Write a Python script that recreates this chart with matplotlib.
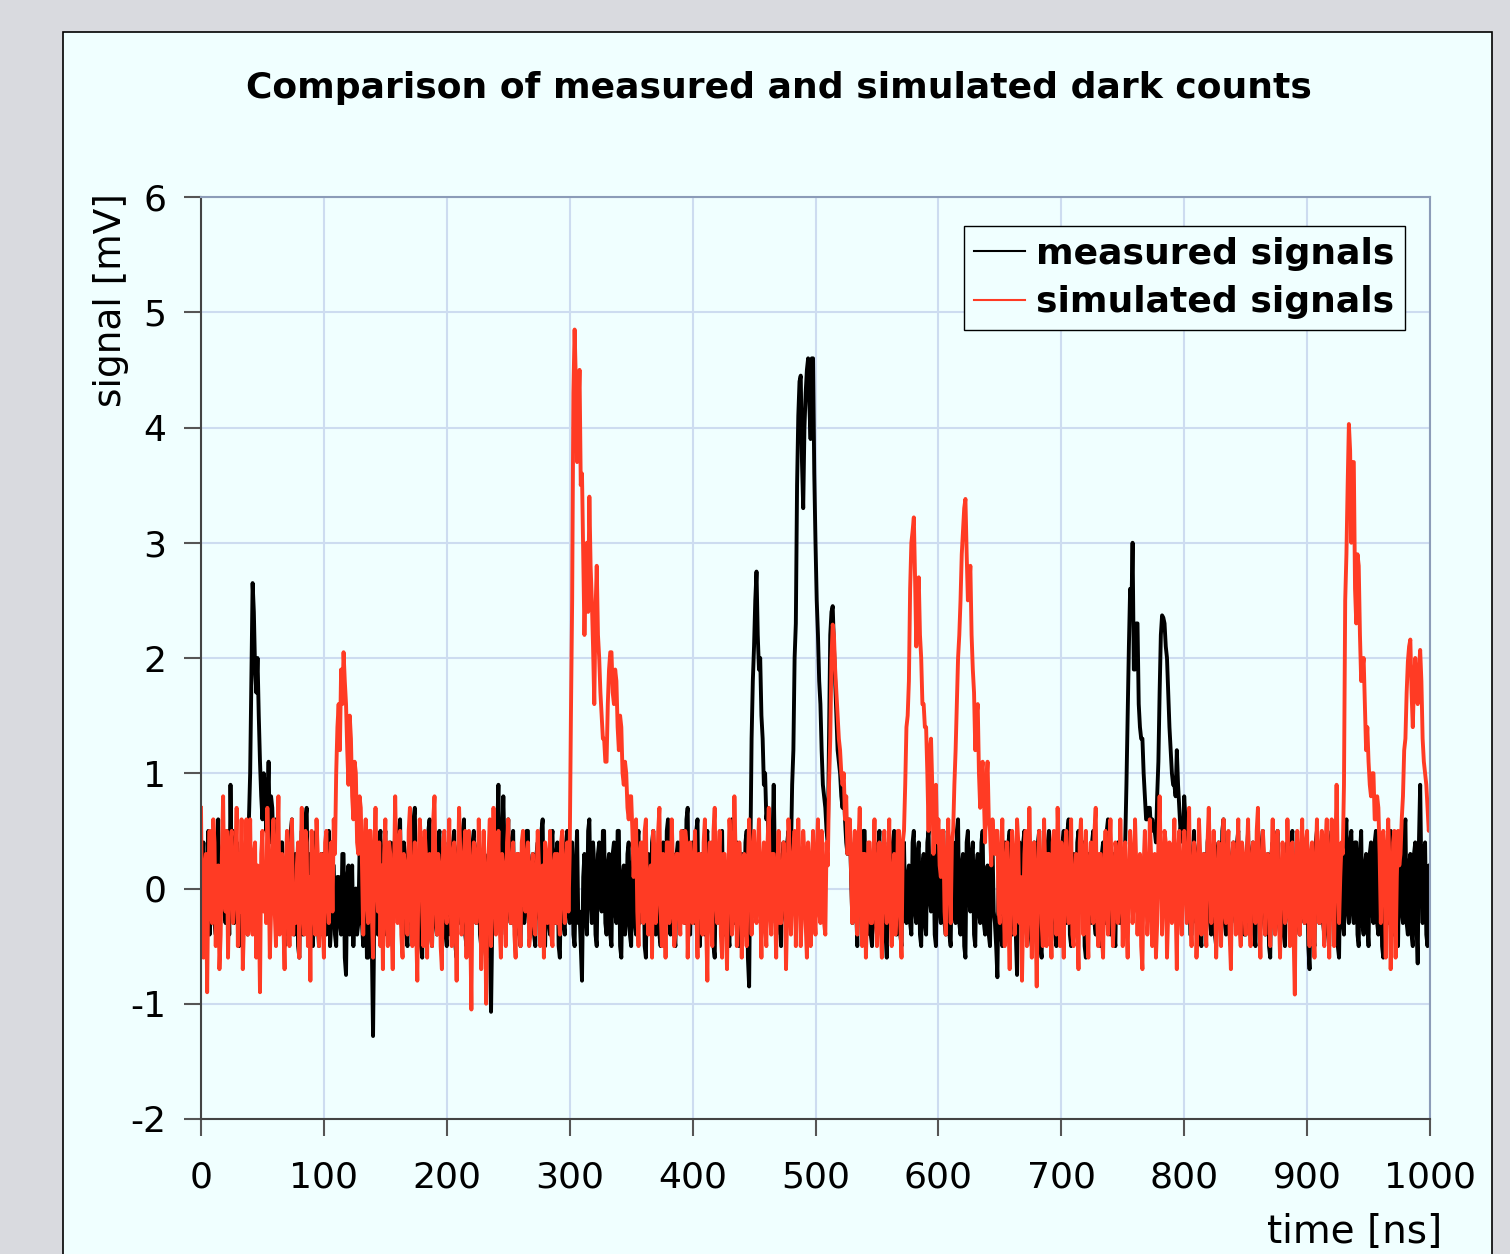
import numpy as np
import matplotlib.pyplot as plt
from matplotlib.patches import Rectangle

# sampling step of the traces [ns]
step_ns = 1

# measured signal [mV], one line = 10 ns
measured = [
    -0.5, 0.2, 0.4, -0.3, -0.3, 0.1, 0.5, -0.4, -0.2, 0.5,
    0.3, -0.3, -0.4, 0.2, 0.6, -0.3, -0.1, 0.3, 0.4, -0.2,
    -0.3, 0.5, 0.2, -0.4, 0.9, 0.1, 0.5, -0.3, -0.2, 0.4,
    0.3, -0.5, -0.4, 0.3, 0.1, -0.2, 0.3, 0.5, -0.4, 0.6,
    1.0, 1.8, 2.65, 2.4, 1.9, 1.7, 2.0, 1.5, 1.1, 0.8,
    0.6, 1.0, 0.9, 0.5, 0.7, 1.1, 0.4, 0.8, 0.7, 0.3,
    0.2, 0.6, 0.5, -0.2, -0.3, 0.4, 0.4, -0.3, -0.5, 0.2,
    0.3, -0.4, -0.2, 0.5, 0.6, -0.3, -0.4, 0.3, 0.2, -0.5,
    -0.6, 0.2, 0.5, -0.4, -0.3, 0.6, 0.7, -0.2, -0.4, 0.3,
    0.3, -0.5, -0.2, 0.4, 0.5, -0.3, -0.5, 0.2, 0.3, -0.4,
    0.3, -0.2, -0.4, 0.3, 0.5, -0.5, -0.3, 0.2, 0.2, -0.4,
    -0.5, 0.1, 0.1, -0.3, -0.4, 0.3, 0.3, -0.6, -0.75, 0.1,
    0.2, -0.4, -0.3, 0.2, -0.5, -0.1, 0.0, -0.4, -0.3, 0.3,
    0.4, -0.3, -0.5, 0.1, 0.2, -0.6, -0.6, 0.2, 0.3, -0.5,
    -1.28, -0.2, 0.2, -0.3, -0.4, 0.4, 0.5, -0.2, -0.3, 0.3,
    0.5, -0.4, -0.3, 0.3, 0.4, -0.3, -0.5, 0.4, 0.2, -0.1,
    -0.2, 0.5, 0.6, -0.3, -0.4, 0.4, 0.3, -0.4, -0.5, 0.2,
    0.5, -0.3, -0.3, 0.6, 0.7, -0.2, -0.4, 0.3, 0.2, -0.5,
    -0.6, 0.3, 0.4, -0.2, -0.3, 0.5, 0.6, -0.4, -0.5, 0.2,
    0.3, -0.3, -0.4, 0.4, 0.5, -0.1, -0.2, 0.3, 0.4, -0.4,
    -0.5, 0.2, 0.3, -0.4, -0.3, 0.4, 0.5, -0.5, -0.6, 0.3,
    0.4, -0.3, -0.2, 0.5, 0.6, -0.4, -0.5, 0.2, 0.3, -0.3,
    -0.4, 0.4, 0.5, -0.2, -0.3, 0.3, 0.4, -0.4, -0.5, 0.1,
    0.2, -0.5, -0.6, 0.2, 0.3, -0.4, -1.07, -0.3, 0.4, 0.2,
    -0.3, 0.5, 0.9, 0.1, -0.2, 0.4, 0.8, 0.3, -0.4, 0.2,
    0.6, -0.2, -0.3, 0.4, 0.5, -0.3, -0.4, 0.2, 0.3, -0.4,
    -0.5, 0.3, 0.4, -0.3, -0.2, 0.5, 0.5, -0.3, -0.4, 0.2,
    0.3, -0.4, -0.5, 0.3, 0.4, -0.2, -0.3, 0.5, 0.6, -0.4,
    -0.5, 0.1, 0.2, -0.3, -0.4, 0.4, 0.5, -0.2, -0.3, 0.3,
    0.4, -0.5, -0.6, 0.2, 0.3, -0.3, -0.4, 0.4, 0.5, -0.2,
    -0.3, 0.3, 0.4, -0.4, -0.5, 0.2, 0.5, -0.3, -0.2, -0.5,
    -0.8, 0.1, 0.3, -0.2, -0.4, 0.5, 0.6, -0.1, -0.3, 0.4,
    0.2, -0.4, -0.5, 0.3, 0.4, -0.1, -0.2, 0.5, 0.5, -0.3,
    -0.4, 0.2, 0.3, -0.4, -0.5, 0.3, 0.4, -0.2, -0.3, 0.5,
    0.5, -0.5, -0.6, 0.1, 0.2, -0.4, -0.3, 0.3, 0.4, -0.4,
    -0.5, 0.2, 0.3, -0.3, -0.4, 0.4, 0.5, -0.3, -0.2, 0.3,
    0.4, -0.5, -0.6, 0.2, 0.3, -0.2, -0.3, 0.4, 0.5, -0.3,
    -0.4, 0.1, 0.2, -0.4, -0.5, 0.3, 0.4, -0.2, -0.3, 0.5,
    0.6, -0.3, -0.4, 0.2, 0.3, -0.4, -0.5, 0.3, 0.4, -0.1,
    -0.2, 0.4, 0.5, -0.2, -0.3, 0.6, 0.7, -0.3, -0.4, 0.3,
    0.4, -0.2, -0.3, 0.5, 0.6, -0.4, -0.5, 0.2, 0.3, -0.3,
    -0.4, 0.4, 0.5, -0.1, -0.2, 0.3, 0.4, -0.5, -0.6, 0.2,
    0.3, -0.2, -0.3, 0.4, 0.5, -0.3, -0.4, 0.1, 0.2, -0.4,
    -0.5, 0.5, 0.6, -0.2, -0.3, 0.3, 0.4, -0.4, -0.5, 0.2,
    0.3, -0.3, -0.4, 0.4, 0.5, -0.6, -0.85, 0.3, 1.3, 1.8,
    2.1, 2.5, 2.75, 2.2, 1.9, 2.0, 1.5, 1.3, 0.9, 1.0,
    0.6, 0.7, 0.3, 0.1, -0.3, 0.4, 0.9, 0.2, -0.4, 0.3,
    0.3, -0.3, -0.5, 0.2, 0.4, -0.2, -0.3, 0.4, 0.5, -0.1,
    0.3, 0.9, 1.2, 2.0, 2.3, 3.5, 4.1, 4.4, 4.45, 3.7,
    3.3, 4.0, 4.3, 4.5, 4.6, 4.2, 3.9, 4.6, 4.6, 3.6,
    3.0, 2.5, 2.2, 1.8, 1.6, 1.2, 0.9, 0.8, 0.7, 0.5,
    0.4, 1.3, 2.2, 2.4, 2.45, 2.1, 1.8, 1.5, 1.2, 1.1,
    1.0, 0.8, 0.7, 0.9, 0.6, 0.4, 0.3, 0.6, 0.5, 0.1,
    -0.3, 0.2, 0.4, -0.1, -0.5, 0.3, 0.3, -0.2, -0.2, 0.5,
    0.5, -0.3, -0.4, 0.2, 0.3, -0.4, -0.5, 0.3, 0.4, -0.3,
    -0.4, 0.3, 0.5, -0.2, -0.3, 0.3, 0.4, -0.4, -0.6, 0.2,
    0.3, -0.1, -0.2, 0.4, 0.5, -0.3, -0.4, 0.2, 0.3, -0.4,
    -0.5, 0.3, 0.4, -0.2, -0.3, 0.1, 0.2, -0.3, -0.4, 0.4,
    0.5, -0.2, -0.3, 0.3, 0.4, -0.4, -0.5, 0.2, 0.3, -0.3,
    -0.4, 0.4, 0.5, -0.1, -0.2, 0.2, 0.3, -0.4, -0.5, 0.3,
    0.4, -0.2, -0.3, 0.4, 0.5, -0.3, -0.4, 0.1, 0.2, -0.4,
    -0.5, 0.3, 0.4, -0.2, -0.3, 0.5, 0.6, -0.3, -0.4, 0.2,
    0.3, -0.5, -0.6, 0.4, 0.5, -0.1, -0.2, 0.3, 0.4, -0.4,
    -0.5, 0.2, 0.3, -0.2, -0.3, 0.4, 0.5, -0.3, -0.4, 0.1,
    0.2, -0.4, -0.5, 0.3, 0.4, -0.2, -0.3, -0.5, -0.77, 0.1,
    0.3, -0.4, -0.5, 0.3, 0.4, -0.2, -0.3, 0.4, 0.5, -0.3,
    -0.4, 0.1, 0.2, -0.4, -0.75, 0.3, 0.4, -0.2, -0.3, 0.4,
    0.5, -0.3, -0.4, 0.2, 0.3, -0.4, -0.5, 0.3, 0.4, -0.1,
    -0.2, 0.4, 0.5, -0.5, -0.6, 0.2, 0.3, -0.3, -0.4, 0.4,
    0.5, -0.2, -0.3, 0.3, 0.4, -0.4, -0.5, 0.2, 0.3, -0.3,
    -0.4, 0.4, 0.5, -0.2, -0.3, 0.5, 0.6, -0.4, -0.5, 0.2,
    0.3, -0.3, -0.4, 0.4, 0.5, -0.1, -0.2, 0.3, 0.4, -0.5,
    -0.6, 0.2, 0.3, -0.2, -0.3, 0.4, 0.5, -0.3, -0.4, 0.1,
    0.2, -0.4, -0.5, 0.3, 0.4, -0.2, -0.3, 0.5, 0.6, -0.3,
    -0.4, 0.2, 0.3, -0.4, -0.5, 0.3, 0.4, -0.2, -0.3, 0.2,
    0.3, 0.2, 0.4, 0.9, 1.5, 2.1, 2.6, 2.4, 3.0, 1.9,
    1.9, 2.3, 2.3, 1.6, 1.4, 1.3, 1.3, 1.0, 0.8, 0.6,
    0.6, 0.7, 0.7, 0.5, 0.6, 0.5, 0.5, 0.4, 0.8, 1.1,
    1.7, 2.2, 2.37, 2.35, 2.3, 2.1, 2.0, 1.7, 1.4, 1.2,
    1.0, 0.9, 0.9, 0.8, 1.2, 0.9, 0.7, 0.5, 0.6, 0.4,
    0.8, 0.6, 0.5, 0.2, 0.3, -0.4, -0.4, 0.3, 0.5, -0.2,
    -0.3, 0.3, 0.4, -0.4, -0.5, 0.2, 0.3, -0.3, -0.2, 0.4,
    0.5, -0.3, -0.4, 0.2, 0.3, -0.4, -0.5, 0.3, 0.4, -0.2,
    -0.3, 0.5, 0.6, -0.3, -0.4, 0.1, 0.2, -0.4, -0.5, 0.3,
    0.4, -0.2, -0.3, 0.4, 0.5, -0.3, -0.4, 0.2, 0.3, -0.4,
    -0.4, 0.3, 0.5, -0.2, -0.3, 0.3, 0.4, -0.4, -0.5, 0.2,
    0.3, -0.1, -0.2, 0.4, 0.5, -0.3, -0.4, 0.2, 0.3, -0.5,
    -0.6, 0.3, 0.4, -0.2, -0.3, 0.4, 0.5, -0.3, -0.4, 0.1,
    0.2, -0.4, -0.5, 0.3, 0.4, -0.2, -0.3, 0.4, 0.5, -0.4,
    -0.5, 0.2, 0.3, -0.3, -0.4, 0.3, 0.4, -0.2, -0.3, 0.3,
    0.4, -0.5, -0.7, 0.2, 0.3, -0.4, -0.5, 0.4, 0.5, -0.2,
    -0.3, 0.3, 0.4, -0.3, -0.4, 0.1, 0.2, -0.4, -0.5, 0.4,
    0.5, -0.2, -0.3, 0.3, 0.4, -0.5, -0.6, 0.2, 0.3, -0.3,
    -0.4, 0.5, 0.6, -0.2, -0.3, 0.4, 0.5, -0.2, -0.3, 0.4,
    0.4, -0.4, -0.5, 0.3, 0.5, -0.3, -0.4, 0.2, 0.3, -0.3,
    -0.5, 0.3, 0.4, -0.2, -0.3, 0.4, 0.5, -0.3, -0.4, 0.2,
    0.3, -0.5, -0.6, 0.3, 0.4, -0.2, -0.3, 0.4, 0.5, -0.3,
    -0.4, 0.1, 0.2, -0.4, -0.5, 0.3, 0.4, -0.2, -0.3, 0.5,
    0.6, -0.3, -0.4, 0.2, 0.3, -0.4, -0.5, 0.3, 0.4, -0.3,
    -0.65, 0.4, 0.9, 0.1, -0.3, 0.3, 0.4, -0.4, -0.5, 0.2,
    -0.1,
]

# simulated signal [mV], one line = 10 ns
simulated = [
    0.7, -0.4, -0.6, 0.2, 0.3, -0.9, 0.1, 0.5, -0.2, -0.3,
    0.6, 0.4, -0.5, 0.1, 0.2, -0.7, -0.4, 0.3, 0.8, -0.1,
    -0.2, 0.5, -0.6, 0.0, 0.4, 0.5, -0.3, -0.1, 0.2, 0.7,
    -0.5, 0.3, -0.2, 0.6, -0.7, -0.3, 0.2, 0.6, -0.4, 0.1,
    0.6, -0.3, -0.4, 0.3, 0.4, -0.6, 0.2, -0.1, -0.9, 0.3,
    0.5, -0.2, 0.1, -0.3, 0.7, 0.2, -0.6, -0.2, 0.4, 0.6,
    -0.2, -0.5, 0.3, 0.8, -0.4, 0.1, 0.3, -0.3, -0.7, 0.2,
    0.5, -0.1, -0.5, 0.3, 0.6, -0.4, 0.0, -0.3, 0.2, 0.4,
    -0.6, 0.2, 0.7, -0.2, -0.4, 0.5, 0.4, -0.5, 0.1, -0.8,
    0.5, 0.2, -0.2, -0.4, 0.6, 0.3, -0.5, 0.1, 0.3, -0.3,
    -0.6, 0.4, 0.5, -0.1, -0.3, 0.2, 0.4, -0.2, 0.6, 0.3,
    1.0, 1.4, 1.6, 1.2, 1.9, 1.6, 2.05, 1.8, 1.6, 1.2,
    0.9, 1.5, 1.3, 0.8, 0.6, 1.1, 1.0, 0.4, 0.3, 0.8,
    0.7, 0.2, -0.4, 0.3, 0.6, -0.1, -0.3, 0.5, 0.5, -0.2,
    -0.6, 0.3, 0.7, 0.1, -0.2, 0.4, -0.5, 0.2, -0.7, 0.3,
    0.6, -0.2, -0.5, 0.4, 0.3, -0.3, -0.7, 0.1, 0.8, 0.2,
    -0.3, 0.4, 0.5, -0.4, -0.6, 0.3, 0.2, -0.1, -0.4, 0.5,
    0.7, -0.2, -0.5, 0.1, 0.4, -0.3, -0.8, 0.2, 0.6, 0.4,
    -0.2, -0.5, 0.5, 0.3, -0.6, 0.1, 0.3, -0.4, -0.5, 0.6,
    0.8, -0.1, -0.4, 0.3, 0.2, -0.5, -0.7, 0.4, 0.5, -0.2,
    -0.3, 0.2, 0.6, -0.1, -0.5, 0.3, 0.4, -0.2, -0.8, 0.1,
    0.7, 0.3, -0.4, -0.2, 0.3, 0.5, -0.6, 0.1, 0.5, -0.3,
    -1.05, 0.2, 0.4, 0.3, -0.3, -0.1, 0.6, 0.2, -0.7, -0.3,
    0.5, 0.1, -1.0, -0.2, 0.3, 0.6, -0.5, -0.1, 0.7, 0.2,
    -0.4, 0.1, 0.5, -0.3, -0.6, 0.3, 0.2, -0.2, -0.5, 0.4,
    0.6, -0.1, -0.3, 0.2, 0.4, -0.4, -0.6, 0.3, 0.3, -0.2,
    -0.5, 0.4, 0.5, -0.1, -0.2, 0.3, 0.4, -0.5, -0.4, 0.2,
    0.3, -0.3, -0.4, 0.1, 0.5, 0.2, -0.5, -0.2, 0.2, -0.6,
    0.4, 0.3, -0.3, -0.1, 0.5, -0.4, -0.5, 0.2, 0.3, -0.3,
    0.3, -0.2, -0.4, 0.4, 0.5, -0.1, -0.3, 0.2, 0.4, -0.2,
    0.3, 1.5, 2.5, 4.3, 4.85, 4.4, 3.7, 4.1, 4.5, 3.5,
    3.6, 2.9, 2.2, 2.7, 3.0, 2.4, 3.4, 2.8, 2.5, 2.1,
    1.6, 2.4, 2.8, 2.2, 2.0, 1.7, 1.5, 1.3, 1.3, 1.1,
    1.1, 1.6, 1.9, 2.05, 2.05, 1.7, 1.6, 1.9, 1.8, 1.4,
    1.2, 1.5, 1.4, 1.0, 0.9, 1.1, 1.0, 0.7, 0.6, 0.8,
    0.8, 0.5, 0.1, 0.4, 0.6, -0.2, -0.5, 0.3, 0.4, -0.1,
    -0.3, 0.5, 0.6, -0.2, -0.4, 0.1, 0.2, -0.6, 0.5, 0.3,
    -0.3, -0.1, 0.5, 0.7, -0.2, -0.5, 0.3, 0.1, -0.6, 0.4,
    0.4, -0.3, -0.2, 0.6, 0.2, -0.5, -0.4, 0.3, 0.3, -0.2,
    -0.4, 0.5, 0.1, -0.3, 0.5, 0.4, -0.6, -0.2, 0.4, 0.1,
    -0.3, 0.2, 0.5, -0.2, -0.6, 0.3, 0.3, -0.1, -0.4, 0.4,
    0.6, -0.3, -0.8, 0.2, 0.4, -0.2, -0.5, 0.5, 0.7, -0.1,
    -0.3, 0.2, 0.5, -0.4, -0.6, 0.3, 0.3, -0.2, -0.7, 0.1,
    0.6, 0.4, -0.4, -0.2, 0.8, 0.3, -0.5, -0.1, 0.4, 0.2,
    -0.6, 0.1, 0.3, -0.3, -0.5, 0.2, 0.6, 0.1, -0.4, 0.3,
    0.5, -0.2, -0.3, 0.3, 0.6, -0.1, -0.6, 0.2, 0.4, -0.3,
    -0.5, 0.4, 0.7, -0.2, -0.4, 0.3, 0.3, -0.1, -0.6, 0.2,
    0.5, -0.3, -0.3, 0.1, 0.4, 0.2, -0.7, -0.2, 0.6, 0.3,
    -0.4, -0.1, 0.3, 0.5, -0.5, 0.1, 0.6, 0.2, -0.5, -0.2,
    0.5, 0.3, -0.3, -0.6, 0.4, 0.2, -0.5, 0.1, 0.5, -0.2,
    -0.4, 0.3, 0.6, -0.2, -0.3, 0.5, 0.2, -0.3, -0.4, 0.4,
    0.2, 0.9, 1.3, 2.0, 2.29, 2.2, 1.9, 1.7, 1.5, 1.3,
    1.2, 1.0, 0.9, 1.0, 0.6, 0.8, 0.3, 0.5, 0.6, 0.1,
    -0.3, 0.2, 0.5, -0.2, -0.4, 0.4, 0.7, -0.1, -0.5, 0.3,
    0.3, -0.6, -0.2, 0.4, 0.4, -0.3, -0.3, 0.2, 0.6, -0.2,
    -0.5, 0.2, 0.4, -0.3, -0.6, 0.3, 0.5, -0.1, -0.3, 0.2,
    0.6, -0.2, -0.5, 0.1, 0.3, -0.4, -0.2, 0.5, 0.5, -0.3,
    -0.6, 0.4, 0.5, 0.9, 1.4, 1.5, 1.8, 2.6, 3.0, 3.1,
    3.22, 2.7, 2.1, 2.5, 2.7, 2.2, 2.0, 1.6, 1.6, 1.4,
    1.4, 1.0, 0.5, 1.2, 1.3, 0.9, 0.3, 0.7, 0.9, 0.4,
    0.6, 0.2, 0.1, 0.5, 0.5, -0.2, -0.4, 0.2, 0.6, 0.1,
    -0.3, 0.4, 0.5, 0.9, 1.2, 1.6, 2.0, 2.2, 2.5, 2.9,
    3.1, 3.3, 3.38, 2.9, 2.5, 2.6, 2.8, 2.2, 1.9, 1.7,
    1.2, 1.5, 1.6, 1.0, 0.7, 1.0, 1.1, 0.8, 0.4, 0.9,
    1.1, 0.6, 0.5, 0.2, 0.6, 0.4, 0.3, 0.5, 0.5, -0.2,
    -0.3, 0.3, 0.6, -0.1, -0.5, 0.2, 0.4, -0.3, -0.7, 0.1,
    0.5, 0.3, -0.4, -0.2, 0.6, 0.4, -0.3, 0.1, -0.8, -0.2,
    0.3, 0.5, -0.5, -0.1, 0.7, 0.2, -0.6, 0.3, 0.4, -0.2,
    -0.85, 0.1, 0.5, 0.2, -0.3, -0.5, 0.6, 0.1, -0.5, 0.3,
    0.3, -0.2, -0.6, 0.4, 0.5, -0.1, -0.4, 0.7, 0.3, -0.5,
    0.4, -0.2, -0.6, 0.3, 0.5, -0.1, -0.3, 0.2, 0.6, -0.4,
    -0.5, 0.1, 0.3, -0.3, -0.7, 0.4, 0.6, 0.1, -0.4, 0.2,
    0.5, -0.3, -0.6, 0.2, 0.4, -0.1, -0.3, 0.5, 0.7, -0.2,
    -0.5, 0.3, 0.3, -0.4, -0.6, 0.2, 0.5, -0.1, -0.4, 0.3,
    0.6, 0.1, -0.5, -0.2, 0.4, 0.3, -0.3, -0.1, 0.6, 0.2,
    -0.5, 0.2, 0.4, -0.3, -0.6, 0.1, 0.5, 0.3, -0.3, -0.1,
    0.6, 0.2, -0.4, 0.1, 0.3, -0.5, -0.7, 0.2, 0.5, 0.1,
    -0.4, -0.2, 0.6, 0.3, -0.5, 0.1, 0.3, -0.6, -0.3, 0.4,
    0.8, 0.2, -0.4, -0.1, 0.5, 0.4, -0.6, -0.2, 0.4, 0.1,
    -0.3, 0.2, 0.6, -0.1, -0.7, 0.3, 0.5, -0.2, -0.4, 0.2,
    0.5, 0.1, -0.3, 0.2, 0.7, -0.2, -0.5, 0.1, 0.4, 0.2,
    -0.6, -0.2, 0.6, 0.3, -0.4, 0.1, 0.3, -0.3, -0.5, 0.4,
    0.7, 0.2, -0.3, -0.1, 0.5, 0.1, -0.6, -0.2, 0.4, 0.3,
    -0.5, 0.1, 0.6, -0.2, -0.3, 0.3, 0.5, -0.4, -0.7, 0.2,
    0.4, 0.1, -0.4, 0.2, 0.6, -0.3, -0.5, 0.4, 0.3, -0.2,
    -0.4, 0.3, 0.6, -0.2, -0.5, 0.2, 0.4, -0.1, -0.3, 0.5,
    0.7, -0.2, -0.6, 0.1, 0.5, 0.3, -0.4, -0.1, 0.3, 0.2,
    -0.5, 0.2, 0.6, -0.3, -0.4, 0.4, 0.5, -0.2, -0.6, 0.1,
    0.4, 0.2, -0.3, -0.2, 0.6, 0.1, -0.5, 0.3, 0.4, -0.4,
    -0.92, 0.2, 0.5, -0.1, -0.4, 0.3, 0.6, -0.2, -0.3, 0.4,
    0.5, -0.2, -0.5, 0.3, 0.4, -0.3, -0.6, 0.2, 0.6, 0.1,
    -0.3, 0.3, 0.5, -0.2, -0.5, 0.4, 0.6, -0.1, -0.6, 0.2,
    0.6, 0.1, -0.5, 0.3, 0.9, 0.2, -0.3, 0.1, 0.4, 0.3,
    0.9, 2.5, 2.9, 3.5, 4.03, 3.8, 3.0, 3.7, 3.7, 2.6,
    2.3, 2.9, 2.8, 2.2, 1.8, 1.9, 2.0, 1.6, 1.2, 1.4,
    1.1, 0.9, 0.8, 1.0, 1.0, 0.6, 0.6, 0.8, 0.7, 0.3,
    -0.3, 0.4, 0.5, 0.1, -0.6, 0.3, 0.6, 0.2, -0.7, -0.2,
    0.4, 0.5, -0.6, 0.1, 0.5, 0.2, 0.3, 0.6, 0.8, 1.2,
    1.3, 1.7, 1.97, 2.1, 2.16, 1.7, 1.4, 1.8, 2.0, 1.7,
    1.6, 1.9, 2.07, 1.8, 1.3, 1.1, 1.0, 0.9, 0.7, 0.5,
    0.6,
]

t_meas = np.arange(len(measured)) * step_ns
t_sim = np.arange(len(simulated)) * step_ns

plt.rcParams['font.family'] = ['DejaVu Sans']
plt.rcParams['axes.unicode_minus'] = False

W, H = 1510, 1254
bg = '#f0ffff'
fig = plt.figure(figsize=(W / 100, H / 100), dpi=100, facecolor='#d9dadf')

# light panel with black border behind the chart
panel = Rectangle((63 / W, -0.05), (1492 - 63) / W, 1 - 32 / H + 0.05,
                  transform=fig.transFigure, facecolor=bg, edgecolor='black',
                  linewidth=1.2, zorder=-10)
fig.patches.append(panel)

ax = fig.add_axes([201 / W, 1 - 1119 / H, (1430 - 201) / W, (1119 - 197) / H])
ax.set_facecolor(bg)

ax.plot(t_meas, measured, color='black', lw=2.8, label='measured signals')
ax.plot(t_sim, simulated, color='#ff3b24', lw=2.8, label='simulated signals')

ax.set_xlim(0, 1000)
ax.set_ylim(-2, 6)
ax.set_xticks(range(0, 1001, 100))
ax.set_yticks(range(-2, 7))
ax.grid(True, color='#cddcf0', lw=1.5)
ax.set_axisbelow(True)

ax.tick_params(direction='out', length=12, width=1.5, color='#555555', labelsize=26)
ax.tick_params(axis='x', pad=18)
ax.tick_params(axis='y', pad=13)
for s in ['left', 'bottom']:
    ax.spines[s].set_color('#444444')
    ax.spines[s].set_linewidth(1.5)
for s in ['top', 'right']:
    ax.spines[s].set_color('#8c9cb8')
    ax.spines[s].set_linewidth(1.5)

leg = ax.legend(loc='upper right', bbox_to_anchor=(1405 / W, 1 - 226 / H),
                bbox_transform=fig.transFigure, borderaxespad=0,
                prop={'weight': 'bold', 'size': 26}, fancybox=False,
                edgecolor='black', facecolor=bg, framealpha=1,
                handlelength=1.4, handletextpad=0.3, labelspacing=0.4,
                borderpad=0.3)
leg.get_frame().set_linewidth(1.0)
for line in leg.get_lines():
    line.set_linewidth(1.5)

fig.text(779 / W, 1 - 88 / H, 'Comparison of measured and simulated dark counts',
         ha='center', va='center', fontsize=26, fontweight='bold')
fig.text(111 / W, 1 - 300 / H, 'signal [mV]', rotation=90,
         ha='center', va='center', fontsize=27)
fig.text(1442 / W, 1 - 1232 / H, 'time [ns]', ha='right', va='center', fontsize=28)

fig.savefig('out.png', dpi=100, facecolor=fig.get_facecolor())
